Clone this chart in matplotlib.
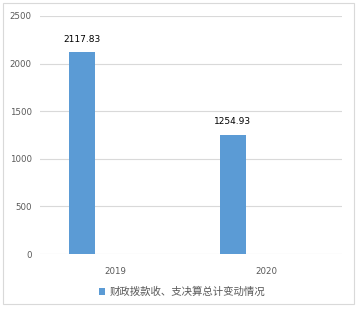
import matplotlib.pyplot as plt
from matplotlib.patches import Rectangle

plt.rcParams['font.family'] = ['DejaVu Sans', 'Noto Sans CJK SC']

# Data
years = ['2019', '2020']
totals = [2117.83, 1254.93]
series_name = '财政拨款收、支决算总计变动情况'

fig = plt.figure(figsize=(3.59, 3.14), dpi=100)
ax = fig.add_axes([40 / 359, 60 / 314, 302 / 359, 238 / 314])

x = range(len(years))
bar_w = 26 / 151
offset = -33.5 / 151
bars = ax.bar([i + offset for i in x], totals, width=bar_w, color='#5b9bd5',
              label=series_name, zorder=3)

for b, v in zip(bars, totals):
    ax.text(b.get_x() + b.get_width() / 2, v + 90, f'{v:.2f}', ha='center',
            va='bottom', fontsize=6.5, color='black')

ax.set_xlim(-0.5, len(years) - 0.5)
ax.set_ylim(0, 2500)
ax.set_yticks(range(0, 2501, 500))
ax.set_xticks(list(x))
ax.set_xticklabels(years)
ax.tick_params(axis='both', length=0, labelsize=6.2, labelcolor='#595959')
ax.tick_params(axis='x', pad=9)
ax.tick_params(axis='y', pad=6)
ax.grid(axis='y', color='#d9d9d9', linewidth=0.8, zorder=0)
for s in ax.spines.values():
    s.set_visible(False)

fig.legend(handles=[bars], labels=[series_name], loc='center',
           bbox_to_anchor=(182 / 359, 1 - 292 / 314), frameon=False,
           prop={'family': ['Noto Sans CJK SC'], 'size': 7.5},
           labelcolor='#595959', handlelength=0.6,
           handleheight=0.6, handletextpad=0.4)

fig.add_artist(Rectangle((3 / 359, 1 - 304 / 314), 351 / 359, 301 / 314,
                         transform=fig.transFigure, fill=False,
                         edgecolor='#d9d9d9', linewidth=0.8))

fig.savefig('out.png', dpi=100)
